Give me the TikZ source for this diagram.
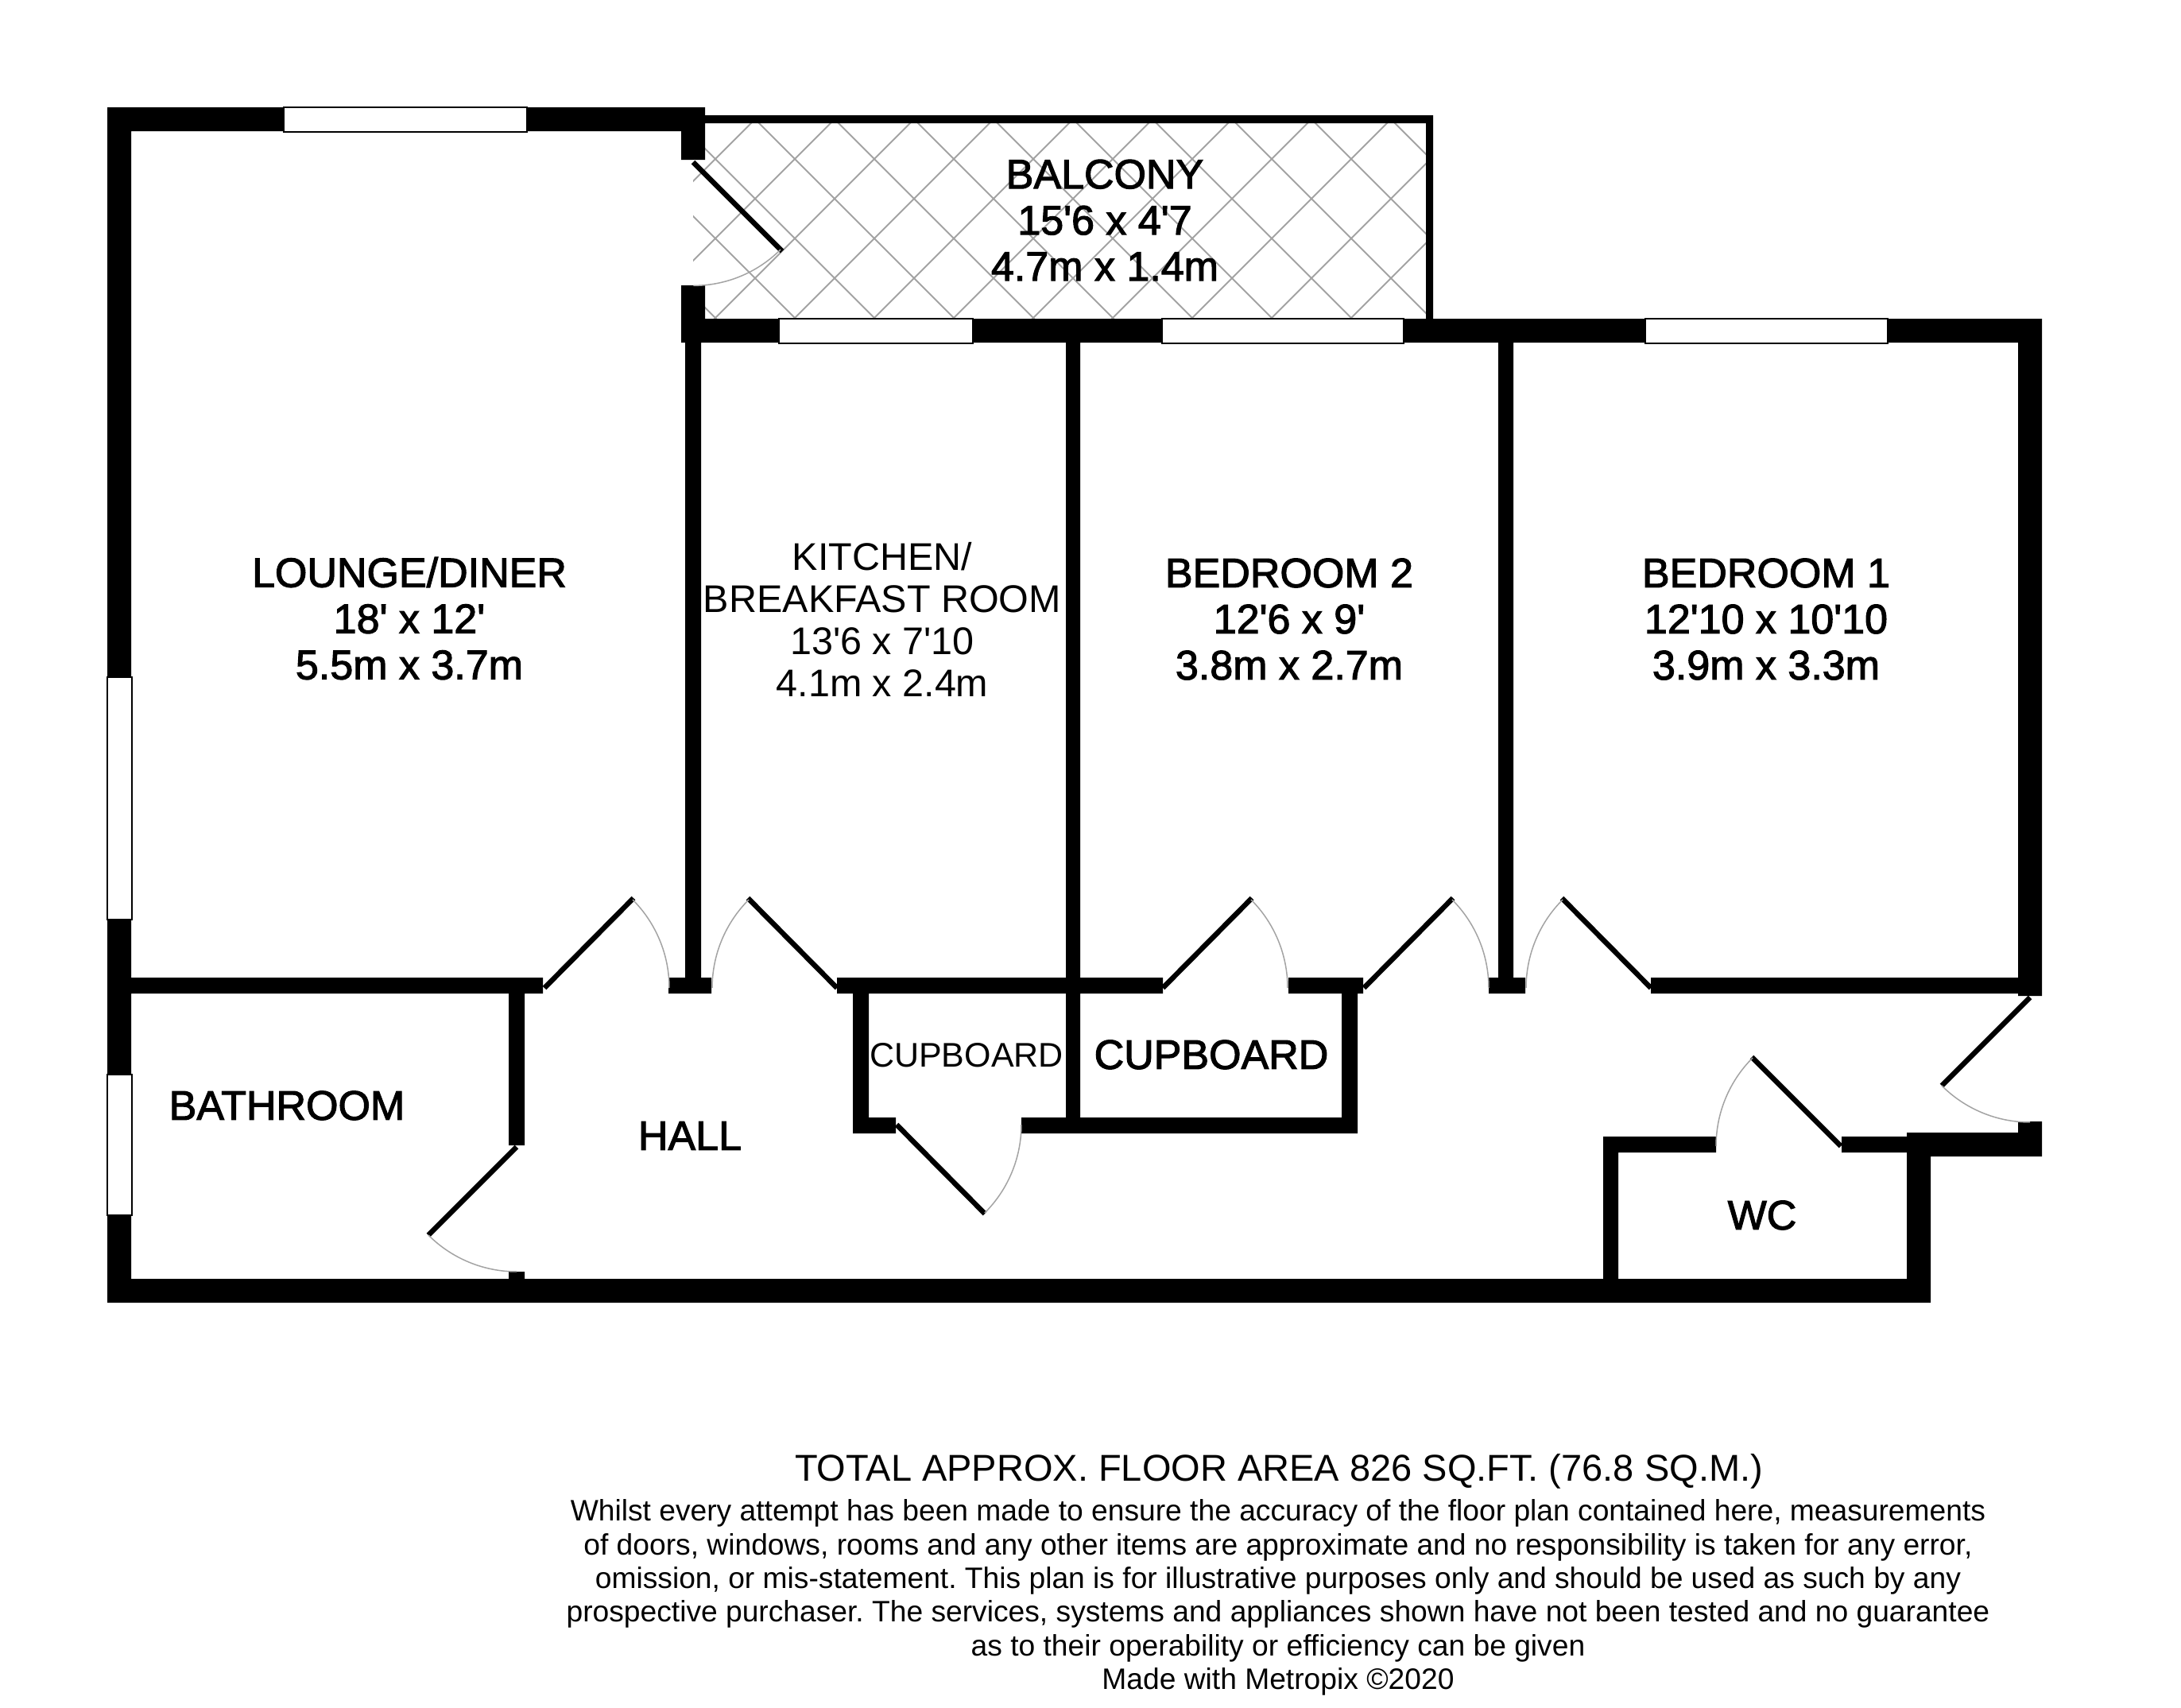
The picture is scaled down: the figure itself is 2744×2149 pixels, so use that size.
\documentclass[tikz,border=0pt]{standalone}
\usepackage{fontspec}
\setmainfont{Liberation Sans}
\newfontfamily\roomfont[FakeBold=2.2]{Liberation Sans}
\newcommand{\ft}{\textquotesingle}
\definecolor{doorgrey}{HTML}{A3A3A3}
\tikzset{
	wall/.style={fill=black},
	window/.style={draw=black,fill=white,line width=2.5pt},
	leaf/.style={line width=6.5pt},
	swing/.style={draw=doorgrey,line width=1.5pt},
	hatch/.style={draw=doorgrey,line width=2pt},
	room/.style={inner sep=0pt,align=center,font=\roomfont\fontsize{52}{58}\selectfont},
	plainroom/.style={inner sep=0pt,align=center,font=\fontsize{48.5}{53}\selectfont},
	note/.style={inner sep=0pt,align=center,font=\frenchspacing\fontsize{37.2}{42.4}\selectfont}
}
\begin{document}
\begin{tikzpicture}[x=1pt,y=-1pt]
	\useasboundingbox (0,0) rectangle (2744,2149);
	\begin{scope}
		\clip (872,155) rectangle (1794,401);
		\foreach \c in {1100,1200,...,2100} \draw[hatch] ({\c-100},100) -- ({\c-500},500);
		\foreach \c in {500,600,...,1600} \draw[hatch] ({\c+100},100) -- ({\c+500},500);
	\end{scope}
	\fill[wall] (135,135) rectangle (887,165) (135,135) rectangle (165,1639)
		(857,135) rectangle (887,201) (857,359) rectangle (887,431)
		(887,145) rectangle (1803,155) (1794,145) rectangle (1803,401)
		(857,401) rectangle (2569,431) (2539,401) rectangle (2569,1253)
		(862,431) rectangle (882,1230) (1341,431) rectangle (1359,1406) (1885,431) rectangle (1904,1230)
		(135,1230) rectangle (683,1250) (841,1230) rectangle (895,1250) (1053,1230) rectangle (1463,1250)
		(1621,1230) rectangle (1715,1250) (1873,1230) rectangle (1919,1250) (2077,1230) rectangle (2539,1250)
		(640,1250) rectangle (660,1441) (640,1600) rectangle (660,1609)
		(1073,1250) rectangle (1093,1426) (1073,1406) rectangle (1127,1426)
		(1285,1406) rectangle (1708,1426) (1688,1250) rectangle (1708,1426)
		(135,1609) rectangle (2429,1639)
		(2017,1430) rectangle (2036,1609) (2017,1430) rectangle (2159,1450) (2317,1430) rectangle (2399,1450)
		(2399,1425) rectangle (2569,1455) (2399,1425) rectangle (2429,1639) (2539,1411) rectangle (2569,1455);
	\draw[window] (357,135) rectangle (663,166);
	\draw[window] (135,852) rectangle (166,1157);
	\draw[window] (135,1352) rectangle (166,1529);
	\draw[window] (980,401) rectangle (1224,432);
	\draw[window] (1462,401) rectangle (1766,432);
	\draw[window] (2070,401) rectangle (2375,432);
	\draw[leaf] (872,204) -- (984,316);
	\draw[leaf] (685,1243) -- (797,1130);
	\draw[leaf] (1053,1243) -- (941,1130);
	\draw[leaf] (1463,1243) -- (1575,1130);
	\draw[leaf] (1716,1243) -- (1828,1130);
	\draw[leaf] (2077,1243) -- (1965,1130);
	\draw[leaf] (650,1443) -- (539,1554);
	\draw[leaf] (1128,1415) -- (1239,1527);
	\draw[leaf] (2316,1442) -- (2204,1330);
	\draw[leaf] (2554,1255) -- (2443,1366);
	\draw[swing] (982,314) arc[start angle=-45,end angle=-90,radius=155pt];
	\draw[swing] (796,1132) arc[start angle=45,end angle=0,radius=157pt];
	\draw[swing] (942,1132) arc[start angle=135,end angle=180,radius=157pt];
	\draw[swing] (1574,1132) arc[start angle=45,end angle=0,radius=157pt];
	\draw[swing] (1827,1132) arc[start angle=45,end angle=0,radius=157pt];
	\draw[swing] (1966,1132) arc[start angle=135,end angle=180,radius=157pt];
	\draw[swing] (539,1554) arc[start angle=-135,end angle=-90,radius=157pt];
	\draw[swing] (1239,1526) arc[start angle=-45,end angle=0,radius=157pt];
	\draw[swing] (2205,1331) arc[start angle=135,end angle=180,radius=157pt];
	\draw[swing] (2443,1366) arc[start angle=-135,end angle=-90,radius=157pt];
	\node[room] (balcony) at (1390,277) {BALCONY\\15\ft6 x 4\ft7\\4.7m x 1.4m};
	\node[room] (lounge) at (515,778) {LOUNGE/DINER\\18\ft{} x 12\ft\\5.5m x 3.7m};
	\node[plainroom] (kitchen) at (1110,779) {KITCHEN/\\BREAKFAST ROOM\\13\ft6 x 7\ft10\\4.1m x 2.4m};
	\node[room] (bedtwo) at (1622,779) {BEDROOM 2\\12\ft6 x 9\ft\\3.8m x 2.7m};
	\node[room] (bedone) at (2222,779) {BEDROOM 1\\12\ft10 x 10\ft10\\3.9m x 3.3m};
	\node[room] (bathroom) at (361,1391) {BATHROOM};
	\node[room] (hall) at (868,1429) {HALL};
	\node[inner sep=0pt,font=\fontsize{43}{48}\selectfont] (cupsmall) at (1216,1328) {CUPBOARD};
	\node[room] (cupbig) at (1524,1327) {CUPBOARD};
	\node[room] (wc) at (2217,1529) {WC};
	\node[inner sep=0pt,font=\fontsize{47}{50}\selectfont] (floorarea) at (1609,1851) {TOTAL APPROX. FLOOR AREA 826 SQ.FT. (76.8 SQ.M.)};
	\node[note] (disclaimer) at (1608,2010) {Whilst every attempt has been made to ensure the accuracy of the floor plan contained here, measurements\\of doors, windows, rooms and any other items are approximate and no responsibility is taken for any error,\\omission, or mis-statement. This plan is for illustrative purposes only and should be used as such by any\\prospective purchaser. The services, systems and appliances shown have not been tested and no guarantee\\as to their operability or efficiency can be given\\Made with Metropix \textcopyright2020};
\end{tikzpicture}
\end{document}
